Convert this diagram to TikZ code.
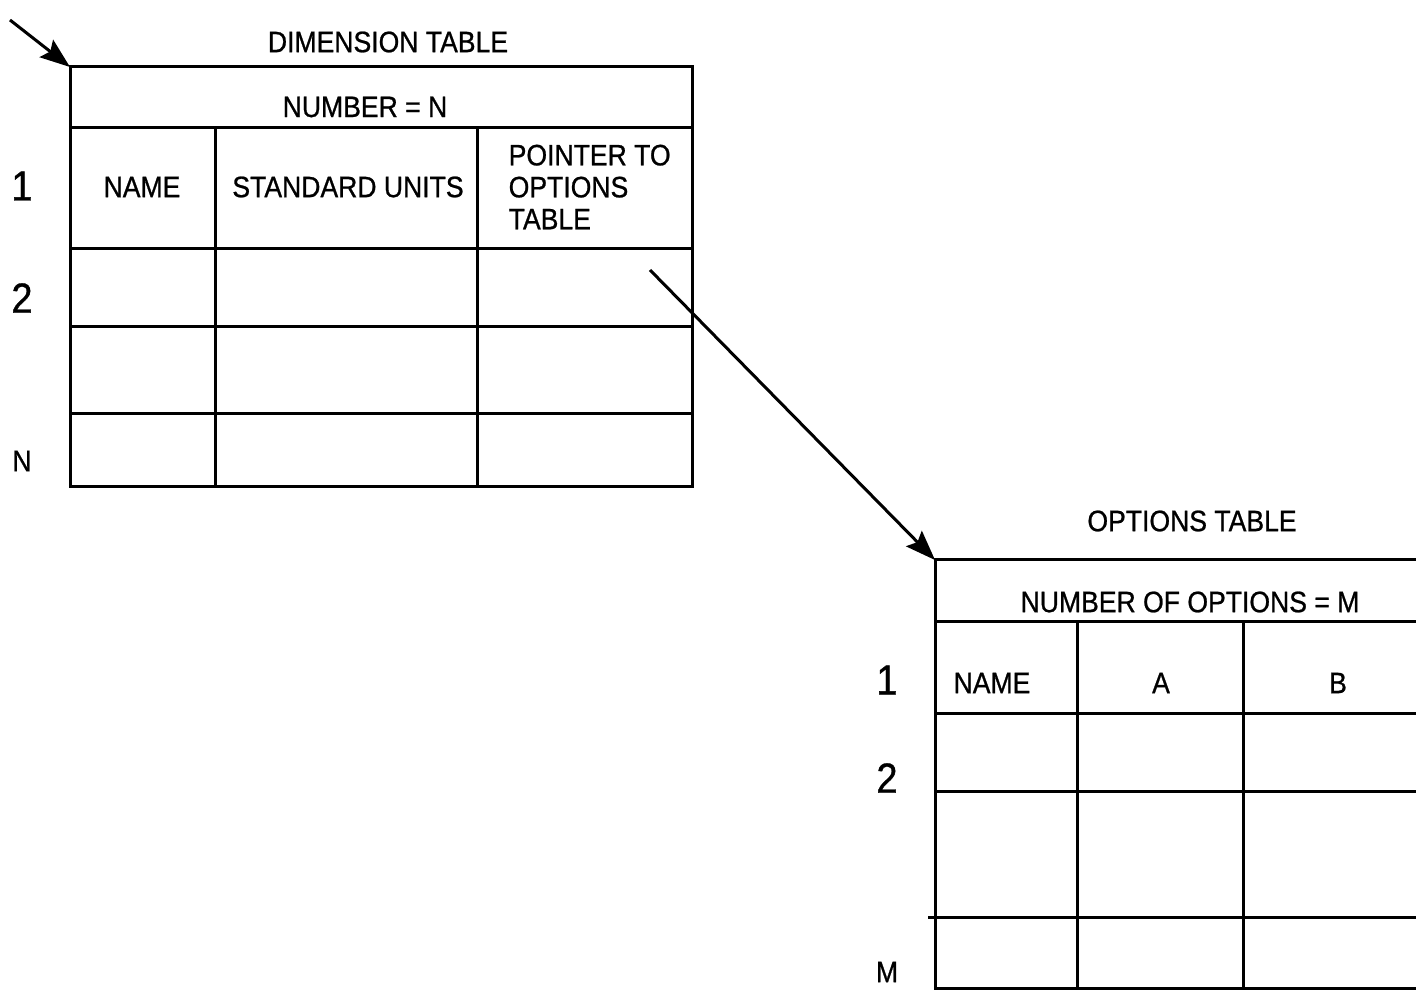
\documentclass[tikz,border=0pt]{standalone}
\usepackage{fontspec}
\setmainfont{Liberation Sans}[FakeStretch=0.9,FakeBold=0.8]
\usetikzlibrary{arrows.meta}

\begin{document}
\begin{tikzpicture}[x=0.1mm,y=-0.1mm,>={Stealth[length=3mm,width=2.2mm,inset=0.5mm]},
  rule/.style={line width=0.3mm},
  lbl/.style={font=\fontsize{8.4}{9.1}\selectfont, inner sep=0pt},
  rowno/.style={font=\fontsize{12}{14}\selectfont, inner sep=0pt}]
  \useasboundingbox (0,0) rectangle (1416,990);

  % Dimension table
  \node[lbl] (dimtitle) at (388,42) {DIMENSION TABLE};
  \coordinate (dimcorner) at (70,67);
  \draw[rule] (dimcorner) rectangle (692,487);
  \foreach \y in {128,249,327,414}
    \draw[rule] (70,\y) -- (692,\y);
  \draw[rule] (215,128) -- (215,487) (477,128) -- (477,487);
  \node[lbl] (dimcount) at (365,107) {NUMBER = N};
  \node[lbl] (dimname) at (142,187) {NAME};
  \node[lbl] (dimunits) at (348,187) {STANDARD UNITS};
  \node[lbl, align=left, anchor=west] (dimptr) at (508,187) {POINTER TO\\OPTIONS\\TABLE};

  % Dimension table row labels
  \node[rowno] (dimrow1) at (22,186) {1};
  \node[rowno] (dimrow2) at (22,298) {2};
  \node[lbl] (dimrowN) at (22,461) {N};

  % Options table (runs off the right edge)
  \node[lbl] (opttitle) at (1192,521) {OPTIONS TABLE};
  \coordinate (optcorner) at (935,560);
  \draw[rule] (1416,560) -- (optcorner) -- (935,988) -- (1416,988);
  \foreach \y in {622,714,792}
    \draw[rule] (935,\y) -- (1416,\y);
  \draw[rule] (928,917) -- (1416,917);
  \draw[rule] (1077,622) -- (1077,988) (1243,622) -- (1243,988);
  \node[lbl] (optcount) at (1190,602) {NUMBER OF OPTIONS = M};
  \node[lbl] (optname) at (992,683) {NAME};
  \node[lbl] (opta) at (1161,683) {A};
  \node[lbl] (optb) at (1338,683) {B};

  % Options table row labels
  \node[rowno] (optrow1) at (887,680) {1};
  \node[rowno] (optrow2) at (887,778) {2};
  \node[lbl] (optrowM) at (887,972) {M};

  % Arrows
  \coordinate (dimin) at (10,20);
  \coordinate (ptrsrc) at (650,270);
  \draw[->, rule] (dimin) -- (dimcorner);
  \draw[->, rule] (ptrsrc) -- (optcorner);
\end{tikzpicture}
\end{document}
